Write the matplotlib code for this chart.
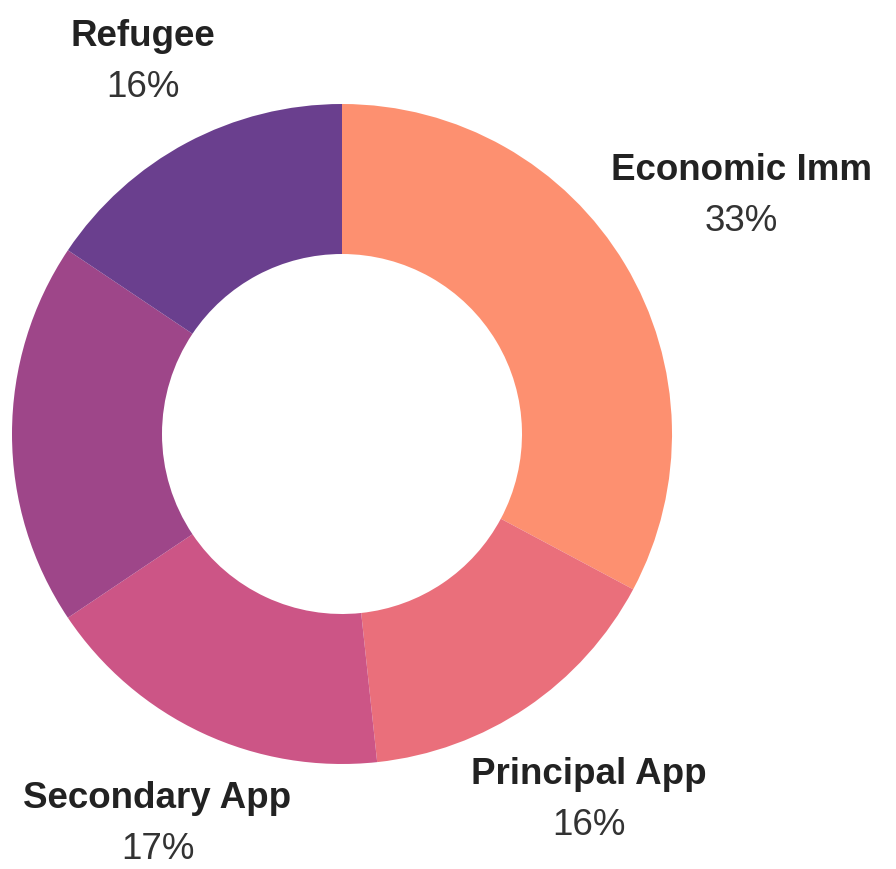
import numpy as np
import matplotlib
matplotlib.use("Agg")
import matplotlib.pyplot as plt

categories = ["Economic Imm", "Principal App", "Secondary App", "", "Refugee"]
values = [32.8, 15.5, 17.3, 18.8, 15.6]
pct_labels = ["33%", "16%", "17%", "", "16%"]
colors = ["#FD9070", "#EA6F7B", "#CC5586", "#9E4689", "#6A3F8E"]
label_dist = [1.41, 1.335, 1.30, 1.32, 1.28]

plt.rcParams['font.family'] = ['Liberation Sans', 'DejaVu Sans']

W, H = 896, 870
fig = plt.figure(figsize=(W / 100, H / 100), dpi=100)
ax = fig.add_axes([0, 0, 1, 1])
R = 330.0
cx, cy = 342.0, 435.0

wedges, _ = ax.pie(values, colors=colors, startangle=90, counterclock=False,
                   radius=1.0, wedgeprops=dict(width=150 / R, linewidth=0),
                   normalize=True)
ax.set_aspect('auto')
ax.set_xlim(-cx / R, (W - cx) / R)
ax.set_ylim(-(H - cy) / R, cy / R)
ax.axis('off')

total = sum(values)
cum = 0.0
for i, v in enumerate(values):
    mid = (cum + v / 2) / total * 2 * np.pi
    cum += v
    if not categories[i]:
        continue
    d = label_dist[i]
    x = d * np.sin(mid) - (3 / R if i == 2 else 0)
    y = d * np.cos(mid)
    ax.text(x, y + 25.5 / R, categories[i], ha='center', va='center',
            fontsize=26.5, fontweight='bold', color='#222222')
    ax.text(x, y - 25.5 / R, pct_labels[i], ha='center', va='center',
            fontsize=26.5, color='#333333')

fig.savefig("out.png", dpi=100)
